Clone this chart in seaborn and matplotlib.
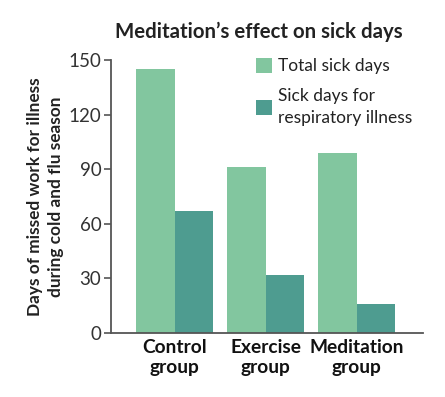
import pandas as pd
import seaborn as sns
import matplotlib.pyplot as plt
from matplotlib.patches import Patch

# Chart data
groups = ['Control\ngroup', 'Exercise\ngroup', 'Meditation\ngroup']
total_days = [145, 91, 99]
resp_days = [67, 32, 16]
series_names = ['Total sick days', 'Sick days for\nrespiratory illness']
colors = ['#82C69F', '#4E9C90']

df = pd.DataFrame({
    'group': groups * 2,
    'days': total_days + resp_days,
    'measure': [series_names[0]] * 3 + [series_names[1]] * 3,
})

sns.set_style('white')
plt.rcParams['font.family'] = ['Lato', 'DejaVu Sans']

fig = plt.figure(figsize=(4.45, 3.97), dpi=100)
ax = fig.add_axes([111 / 445, 1 - 333 / 397, 312 / 445, 273 / 397])

sns.barplot(data=df, x='group', y='days', hue='measure', palette=colors,
            width=0.846, linewidth=0, saturation=1, ax=ax, legend=False)

ax.set_ylim(0, 150)
ax.set_xlim(-0.7, 2.73)
ax.set_yticks([0, 30, 60, 90, 120, 150])
ax.tick_params(axis='y', length=5, width=1.2, color='#555555', labelsize=13.5,
               labelcolor='#333333', pad=2, left=True)
ax.tick_params(axis='x', length=0, labelsize=13.8, pad=4)
for lbl in ax.get_xticklabels():
    lbl.set_fontweight('bold')
    lbl.set_color('#111111')
    lbl.set_linespacing(1.25)

sns.despine(ax=ax)
for side in ['left', 'bottom']:
    ax.spines[side].set_color('#555555')
    ax.spines[side].set_linewidth(1.3)

ax.set_xlabel('')
ax.set_ylabel('Days of missed work for illness\nduring cold and flu season',
              fontsize=12.4, fontweight='bold', color='#222222', labelpad=3,
              linespacing=1.4)

fig.text(259 / 445, 1 - 32 / 397, 'Meditation’s effect on sick days',
         ha='center', va='center', fontsize=14.7, fontweight='bold', color='#222222')

handles = [Patch(facecolor=c, edgecolor='none') for c in colors]
leg = fig.legend(handles, series_names, loc='upper left',
                 bbox_to_anchor=(249 / 445, 1 - 51 / 397), frameon=False,
                 fontsize=12.5, handlelength=0.95, handleheight=0.95, handletextpad=0.3,
                 labelspacing=0.8, borderaxespad=0, labelcolor='#222222')
for t in leg.get_texts():
    t.set_linespacing(1.45)

fig.savefig('out.png', dpi=100)
